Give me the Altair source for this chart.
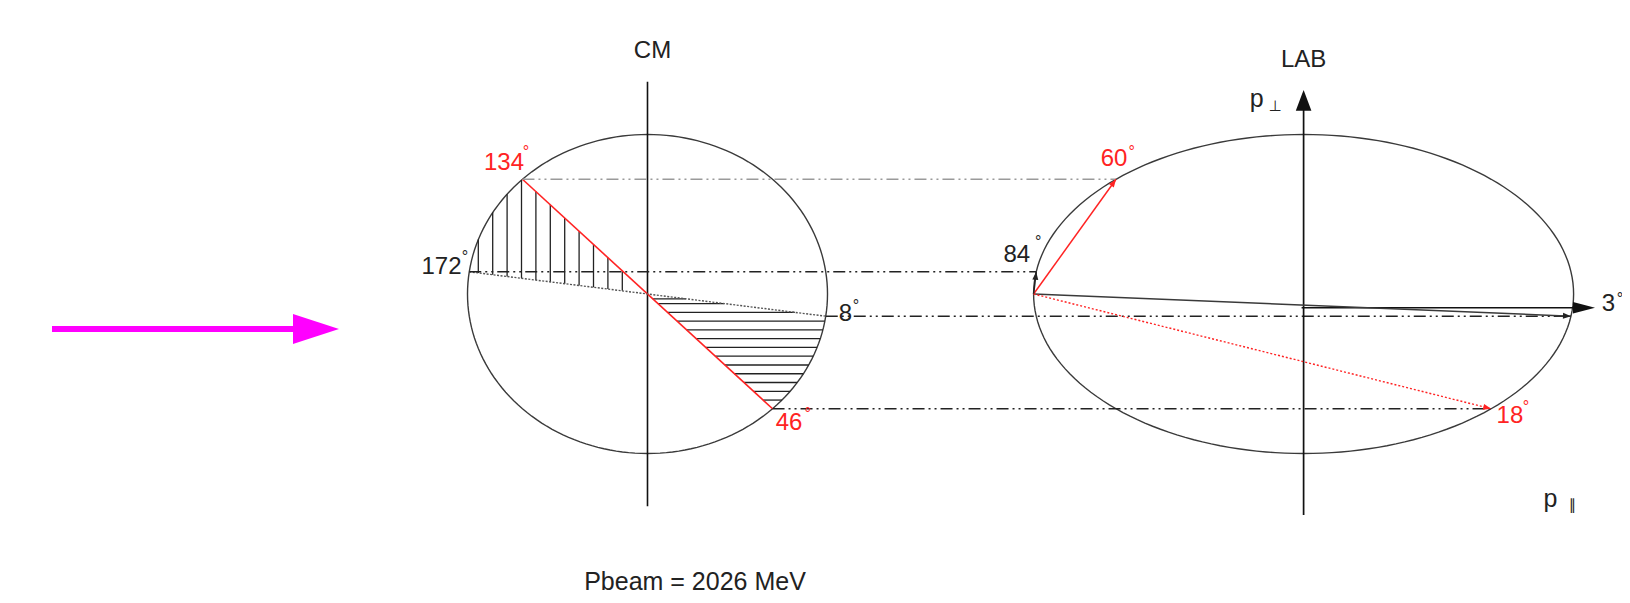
import math
import numpy as np
import pandas as pd
import altair as alt

# ---------------- values ----------------
CM_ANGLES = [134, 172, -8, -46]          # CM angles of the four marked momenta (deg)
CM_TEXT = ["134", "172", "8", "46"]      # CM angle labels
LAB_TEXT = ["60", "84", "3", "18"]       # corresponding LAB angle labels
IS_RED = [True, False, False, True]
GAMMA = 1.5          # LAB ellipse longitudinal half-axis / CM radius
LAB_X0 = 2.145       # LAB origin along the beam (units of p*)
CM_AXIS = [-1.33, 1.33]
LAB_AXIS = [-1.386, 1.279]
PPAR_AXIS_Y = -0.086
PPAR_AXIS_END = 5.264
HATCH_X = [-0.94, -0.86, -0.78, -0.70, -0.62, -0.54, -0.46, -0.38, -0.30, -0.22, -0.14]
HATCH_Y = [-0.03, -0.06, -0.115, -0.17, -0.225, -0.28, -0.335, -0.39, -0.445,
           -0.50, -0.555, -0.61, -0.665]
PBEAM = 2026

# ---------------- layout / style ----------------
SX, SY = 180.0, 159.5          # px per unit
CX, CY = 647.5, 294.0          # page position of CM centre
MARGIN, W, H = 8, 1614, 587
X_DOM = [(MARGIN - CX) / SX, (MARGIN + W - CX) / SX]
Y_DOM = [(CY - MARGIN - H) / SY, (CY - MARGIN) / SY]
RED = "#ff2323"
DARK = "#222222"
LINE = "#3a3a3a"
GRAY = "#9a9a9a"
MAGENTA = "#ff00ff"
FONT = "Liberation Sans"


def px2x(p):
    return (p - CX) / SX


def px2y(p):
    return (CY - p) / SY


def X(f):
    return alt.X(f, type="quantitative", scale=alt.Scale(domain=X_DOM, nice=False, zero=False), axis=None)


def Y(f):
    return alt.Y(f, type="quantitative", scale=alt.Scale(domain=Y_DOM, nice=False, zero=False), axis=None)


rad = [math.radians(a) for a in CM_ANGLES]
cmx = [math.cos(r) for r in rad]
cmy = [math.sin(r) for r in rad]
labx = [LAB_X0 + GAMMA * (c + 1.0) for c in cmx]
laby = cmy[:]
LAB_C = LAB_X0 + GAMMA

layers = []


def rules(df, **kw):
    return alt.Chart(df).mark_rule(**kw).encode(x=X("x"), y=Y("y"), x2="x2", y2="y2")


def heads(df, path):
    return alt.Chart(df).mark_point(shape=path, filled=True, size=4, opacity=1, strokeWidth=0).encode(
        x=X("x"), y=Y("y"), color=alt.Color("col:N", scale=None), angle=alt.Angle("ang:Q", scale=None))


def screen_angle(dx, dy):
    return (math.degrees(math.atan2(-dy * SY, dx * SX))) % 360


# beam arrow
beam_y = px2y(329)
layers.append(rules(pd.DataFrame({"x": [px2x(52)], "x2": [px2x(296)], "y": [beam_y], "y2": [beam_y]}),
                    color=MAGENTA, strokeWidth=6))
layers.append(heads(pd.DataFrame({"x": [px2x(339)], "y": [beam_y], "col": [MAGENTA], "ang": [0]}),
                    "M0,0L-46,-15L-46,15Z"))

# CM circle and LAB ellipse
t = np.arange(0, 362, 2)
circ = pd.DataFrame({"t": t, "x": np.cos(np.radians(t)), "y": np.sin(np.radians(t))})
ell = pd.DataFrame({"t": t, "x": LAB_C + GAMMA * np.cos(np.radians(t)), "y": np.sin(np.radians(t))})
for d in (circ, ell):
    layers.append(alt.Chart(d).mark_line(color=LINE, strokeWidth=1.4).encode(
        x=X("x"), y=Y("y"), order="t:Q"))

# hatching (vertical, upper left)
tan172 = math.tan(math.radians(172))
tan134 = math.tan(math.radians(134))
vh = pd.DataFrame({
    "x": HATCH_X, "x2": HATCH_X,
    "y": [x * tan172 for x in HATCH_X],
    "y2": [min(math.sqrt(1 - x * x), x * tan134) for x in HATCH_X],
})
layers.append(rules(vh, color=DARK, strokeWidth=1.3))
# hatching (horizontal, lower right)
tanm46 = math.tan(math.radians(-46))
tanm8 = math.tan(math.radians(-8))
hh = pd.DataFrame({
    "y": HATCH_Y, "y2": HATCH_Y,
    "x": [y / tanm46 for y in HATCH_Y],
    "x2": [min(math.sqrt(1 - y * y), y / tanm8) for y in HATCH_Y],
})
layers.append(rules(hh, color=DARK, strokeWidth=1.3))

# CM axis
layers.append(rules(pd.DataFrame({"x": [0], "x2": [0], "y": [CM_AXIS[0]], "y2": [CM_AXIS[1]]}),
                    color="#111111", strokeWidth=1.6))
# red line 134 -> -46 and dotted line 172 -> -8
layers.append(rules(pd.DataFrame({"x": [cmx[0]], "x2": [cmx[3]], "y": [cmy[0]], "y2": [cmy[3]]}),
                    color=RED, strokeWidth=1.6))
layers.append(rules(pd.DataFrame({"x": [cmx[1]], "x2": [cmx[2]], "y": [cmy[1]], "y2": [cmy[2]]}),
                    color="#555555", strokeWidth=1.4, strokeDash=[2, 1.5]))

# dash-dot connectors CM -> LAB
con = pd.DataFrame({"x": cmx, "x2": labx, "y": cmy, "y2": laby,
                    "col": [GRAY, DARK, DARK, DARK]})
layers.append(alt.Chart(con).mark_rule(strokeWidth=1.4, strokeDash=[12, 4, 2, 4, 2, 4]).encode(
    x=X("x"), y=Y("y"), x2="x2", y2="y2", color=alt.Color("col:N", scale=None)))

# LAB axes
layers.append(rules(pd.DataFrame({"x": [LAB_C], "x2": [LAB_C], "y": [LAB_AXIS[0]],
                                  "y2": [LAB_AXIS[1] - 19 / SY]}), color="#111111", strokeWidth=1.7))
layers.append(heads(pd.DataFrame({"x": [LAB_C], "y": [LAB_AXIS[1]], "col": ["#111111"], "ang": [270]}),
                    "M0,0L-20.7,-7.8L-20.7,7.8Z"))
layers.append(rules(pd.DataFrame({"x": [LAB_C - 2 / SX], "x2": [PPAR_AXIS_END - 20 / SX],
                                  "y": [PPAR_AXIS_Y], "y2": [PPAR_AXIS_Y]}), color="#111111", strokeWidth=1.6))
layers.append(heads(pd.DataFrame({"x": [PPAR_AXIS_END], "y": [PPAR_AXIS_Y], "col": ["#111111"], "ang": [0]}),
                    "M0,0L-22,-5.8L-22,5.8Z"))

# LAB vectors
vec = pd.DataFrame({"x": [LAB_X0] * 4, "y": [0.0] * 4, "x2": labx, "y2": laby,
                    "col": [RED, DARK, LINE, RED]})
solid = vec.iloc[[0, 1, 2]]
dotted = vec.iloc[[3]]
layers.append(alt.Chart(solid).mark_rule(strokeWidth=1.5).encode(
    x=X("x"), y=Y("y"), x2="x2", y2="y2", color=alt.Color("col:N", scale=None)))
layers.append(alt.Chart(dotted).mark_rule(strokeWidth=1.4, strokeDash=[2, 2]).encode(
    x=X("x"), y=Y("y"), x2="x2", y2="y2", color=alt.Color("col:N", scale=None)))
vh_df = pd.DataFrame({"x": labx, "y": laby, "col": [RED, DARK, DARK, RED],
                      "ang": [screen_angle(lx - LAB_X0, ly) for lx, ly in zip(labx, laby)]})
layers.append(heads(vh_df, "M0,0L-8,-3L-8,3Z"))

# angle labels (offsets in px from the point they label)
NUM_OFF_CM = [(-18.5, -9.3), (-27.75, 2.2), (19.75, 4.5), (16.5, 21.3)]
NUM_OFF_LAB = [(-2, -13.3), (-19.5, -9.8), (37.5, -5.5), (18.8, 14.3)]
DEG_OFF_CM = [(3.5, -31), (-4.25, -19.1), (30.25, -14.5), (35.2, 1.3)]
DEG_OFF_LAB = [(15.7, -31), (2.0, -33.5), (49, -21.2), (34.8, -6)]
NUM_FS, DEG_FS = 24, 16

nums, degs = [], []
for i in range(4):
    col = RED if IS_RED[i] else DARK
    for (ax, ay, txt, noff, doff) in [(cmx[i], cmy[i], CM_TEXT[i], NUM_OFF_CM[i], DEG_OFF_CM[i]),
                                      (labx[i], laby[i], LAB_TEXT[i], NUM_OFF_LAB[i], DEG_OFF_LAB[i])]:
        nums.append({"x": ax + noff[0] / SX, "y": ay - noff[1] / SY, "text": txt, "col": col})
        degs.append({"x": ax + doff[0] / SX, "y": ay - (doff[1] + 0.565 * DEG_FS) / SY, "text": "°", "col": col})


def texts(rows, size, align="center"):
    return alt.Chart(pd.DataFrame(rows)).mark_text(
        font=FONT, fontSize=size, align=align, baseline="alphabetic").encode(
        x=X("x"), y=Y("y"), text="text:N", color=alt.Color("col:N", scale=None))


layers.append(texts(nums, NUM_FS))
layers.append(texts(degs, DEG_FS))

# titles and axis names
titles = [
    {"x": px2x(652.5), "y": px2y(58), "text": "CM", "col": DARK, "fs": 24},
    {"x": LAB_C, "y": px2y(66.7), "text": "LAB", "col": DARK, "fs": 24},
    {"x": px2x(1256.7), "y": px2y(106.7), "text": "p", "col": DARK, "fs": 25},
    {"x": px2x(1550.5), "y": px2y(507), "text": "p", "col": DARK, "fs": 25},
    {"x": px2x(695), "y": px2y(590), "text": f"Pbeam = {PBEAM} MeV", "col": DARK, "fs": 25},
]
small = [
    {"x": px2x(1275), "y": px2y(111), "text": "⊥", "col": DARK},
    {"x": px2x(1572.5), "y": px2y(510), "text": "∥", "col": DARK},
]
layers.append(alt.Chart(pd.DataFrame(titles)).mark_text(
    font=FONT, align="center", baseline="alphabetic").encode(
    x=X("x"), y=Y("y"), text="text:N", color=alt.Color("col:N", scale=None),
    size=alt.Size("fs:Q", scale=None)))
layers.append(alt.Chart(pd.DataFrame(small)).mark_text(
    font="DejaVu Sans", fontSize=15, align="center", baseline="alphabetic").encode(
    x=X("x"), y=Y("y"), text="text:N", color=alt.Color("col:N", scale=None)))

chart = alt.layer(*layers).properties(
    width=W, height=H, padding=0, autosize=alt.AutoSizeParams(type="none"),
    background="white"
).configure_view(stroke=None)

chart.save("out.html", embed_options={"renderer": "svg", "actions": False})
